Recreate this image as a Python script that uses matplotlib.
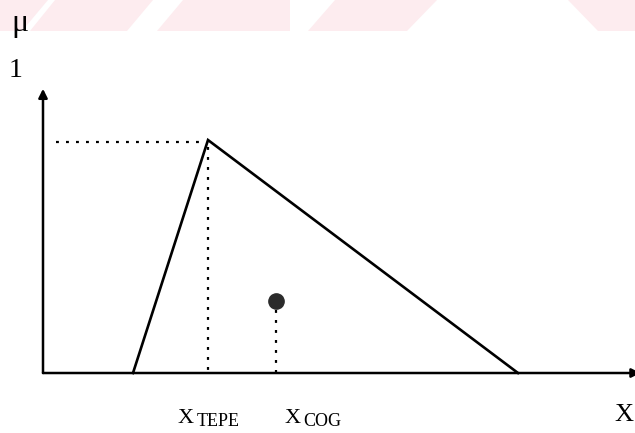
import matplotlib
matplotlib.use("Agg")
import matplotlib.pyplot as plt
from matplotlib.patches import Polygon

# triangular membership function: left foot, peak, right foot
tri_x = [1.8, 3.3, 9.5]
tri_mu = [0.0, 1.0, 0.0]
x_tepe = 3.3
x_cog = 4.65
mu_cog = 0.31
x_end = 11.95
mu_top = 1.22

plt.rcParams['font.family'] = ['Liberation Serif', 'DejaVu Serif']

fig = plt.figure(figsize=(6.35, 4.33), dpi=100)
fig.patch.set_facecolor('white')

# pale stripes along the top edge
stripes = [
    [(0, 0), (48, 0), (22, 31), (0, 31)],
    [(55, 0), (153, 0), (127, 31), (30, 31)],
    [(183, 0), (290, 0), (290, 31), (157, 31)],
    [(335, 0), (437, 0), (407, 31), (308, 31)],
    [(568, 0), (635, 0), (635, 31), (598, 31)],
]
for s in stripes:
    pts = [(px / 635, 1 - py / 433) for px, py in s]
    fig.patches.append(Polygon(pts, closed=True, transform=fig.transFigure,
                               facecolor='#fdecef', edgecolor='none', zorder=-1))

ax = fig.add_axes([0, 0, 1, 1])
ax.set_xlim(-0.86, 11.84)
ax.set_ylim(-0.2575, 1.601)
ax.axis('off')
ax.patch.set_alpha(0)

arrow = dict(arrowstyle='-|>', lw=1.8, color='black', mutation_scale=13,
             shrinkA=0, shrinkB=0)
ax.annotate('', xy=(0, mu_top), xytext=(0, 0), arrowprops=arrow)
ax.annotate('', xy=(x_end, 0), xytext=(0, 0), arrowprops=arrow,
            annotation_clip=False)

ax.plot(tri_x, tri_mu, color='black', lw=1.9, solid_joinstyle='miter')

dots = (0, (1.3, 3.2))
ax.plot([0.25, x_tepe - 0.1], [max(tri_mu) - 0.01] * 2, color='black',
        lw=1.6, ls=dots)
ax.plot([x_tepe, x_tepe], [0.97, 0], color='black', lw=1.6, ls=dots)
ax.plot([x_cog, x_cog], [mu_cog - 0.04, 0], color='black', lw=1.6, ls=dots)
ax.plot([x_cog], [mu_cog], 'o', color='#2b2b2b', ms=11, zorder=5)

ax.text(-0.46, 1.50, '\u03bc', fontsize=23, ha='center', va='center')
ax.text(-0.54, 1.30, '1', fontsize=20, ha='center', va='center')
ax.text(11.42, -0.205, 'X', fontsize=19, ha='left', va='baseline')

ax.text(2.7, -0.215, 'X', fontsize=16, ha='left', va='baseline')
ax.text(3.07, -0.228, 'TEPE', fontsize=13, ha='left', va='baseline')
ax.text(4.84, -0.215, 'X', fontsize=16, ha='left', va='baseline')
ax.text(5.2, -0.228, 'COG', fontsize=13, ha='left', va='baseline')

fig.savefig('out.png', dpi=100, facecolor='white')
